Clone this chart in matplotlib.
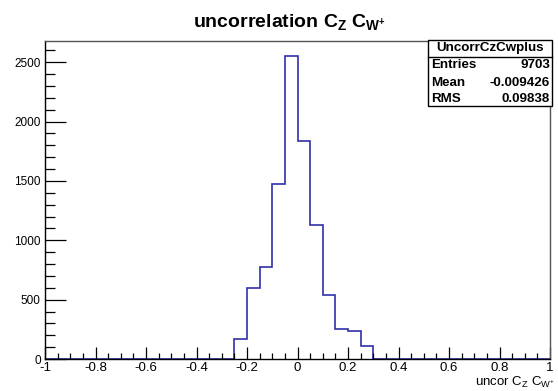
import numpy as np
import matplotlib
matplotlib.use("Agg")
import matplotlib.pyplot as plt
from matplotlib.patches import Rectangle
from matplotlib.lines import Line2D
from matplotlib.ticker import MultipleLocator

plt.rcParams['font.family'] = ['Liberation Sans', 'DejaVu Sans']
plt.rcParams['mathtext.fontset'] = 'custom'
plt.rcParams['mathtext.rm'] = 'Liberation Sans'
plt.rcParams['mathtext.it'] = 'Liberation Sans:italic'
plt.rcParams['mathtext.bf'] = 'Liberation Sans:bold'

# histogram: 40 bins from -1 to 1, only these are non-empty
x_min, x_max, n_bins = -1.0, 1.0, 40
filled_lo = [-0.25, -0.2, -0.15, -0.1, -0.05, 0.0, 0.05, 0.1, 0.15, 0.2, 0.25]
filled_counts = [166, 595, 771, 1478, 2551, 1836, 1130, 541, 255, 235, 109]

x_ticks = [-1, -0.8, -0.6, -0.4, -0.2, 0, 0.2, 0.4, 0.6, 0.8, 1]
x_labels = ['-1', '-0.8', '-0.6', '-0.4', '-0.2', '0', '0.2', '0.4', '0.6', '0.8', '1']
y_ticks = [0, 500, 1000, 1500, 2000, 2500]

stats_name = 'UncorrCzCwplus'
stats_rows = [('Entries', '9703'), ('Mean', '-0.009426'), ('RMS', '0.09838')]

edges = np.linspace(x_min, x_max, n_bins + 1)
counts = np.zeros(n_bins)
for lo, c in zip(filled_lo, filled_counts):
    counts[int(round((lo - x_min) / (edges[1] - edges[0])))] = c

W, H = 558, 391
fig = plt.figure(figsize=(W / 100, H / 100), dpi=100)

def fx(px):
    return px / W

def fy(py):
    return 1 - py / H

ax = fig.add_axes([fx(45), fy(359), fx(550) - fx(45), fy(41) - fy(359)])
ax.stairs(counts, edges, color='#3030aa', lw=1.2, zorder=1)
ax.set_xlim(x_min, x_max)
ax.set_ylim(0, 1.05 * max(filled_counts))

ax.set_xticks(x_ticks)
ax.set_xticklabels(x_labels)
ax.set_yticks(y_ticks)
ax.xaxis.set_minor_locator(MultipleLocator(0.05))
ax.yaxis.set_minor_locator(MultipleLocator(100))
ax.tick_params(axis='x', which='major', direction='in', length=9, width=0.9, labelsize=9.5, pad=2.5)
ax.tick_params(axis='x', which='minor', direction='in', length=4.5, width=0.9)
ax.tick_params(axis='y', which='major', direction='in', length=15, width=0.9, labelsize=8.5, pad=3)
ax.tick_params(axis='y', which='minor', direction='in', length=7.5, width=0.9)
for s in ax.spines.values():
    s.set_linewidth(1.0)
    s.set_zorder(3)
ax.spines['top'].set_color('#555555')
ax.spines['right'].set_color('#555555')

fig.text(fx(289), fy(27), r'uncorrelation C$_{\mathbf{Z}}$ C$_{\mathbf{W^{+}}}$',
         ha='center', va='baseline', fontsize=14, fontweight='bold')
fig.text(fx(555), fy(382), r'uncor C$_{\mathrm{Z}}$ C$_{\mathrm{W^{+}}}$',
         ha='right', va='center', fontsize=9.5)

# stats box
bx0, bx1, by0, by1, bh = 428, 552, 40, 106, 57
fig.add_artist(Rectangle((fx(bx0), fy(by1)), fx(bx1) - fx(bx0), fy(by0) - fy(by1),
                         transform=fig.transFigure, facecolor='white', edgecolor='black', lw=1.0))
fig.add_artist(Line2D([fx(bx0), fx(bx1)], [fy(bh), fy(bh)], transform=fig.transFigure,
                      color='black', lw=1.0))
fig.text(fx((bx0 + bx1) / 2), fy(48.5), stats_name, ha='center', va='center',
         fontsize=9.6, fontweight='bold')
for i, (k, v) in enumerate(stats_rows):
    yy = 65.5 + i * 17
    fig.text(fx(bx0 + 3), fy(yy), k, ha='left', va='center', fontsize=9.6, fontweight='bold')
    fig.text(fx(bx1 - 2), fy(yy), v, ha='right', va='center', fontsize=9.6, fontweight='bold')

fig.savefig('out.png', dpi=100)
